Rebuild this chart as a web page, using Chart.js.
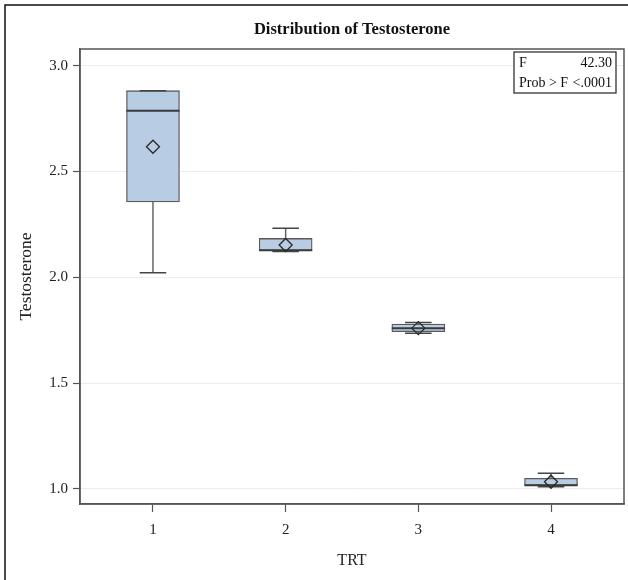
<!DOCTYPE html>
<html><head><meta charset="utf-8">
<script src="https://cdn.jsdelivr.net/npm/chart.js@4"></script>
<style>
html,body{margin:0;padding:0;background:#fff;}
#wrap{position:relative;width:628px;height:580px;}
canvas{display:block;}
</style></head><body>
<div id="wrap"><canvas id="c" width="628" height="580"></canvas></div>
<script>
// ---- data ----
const categories = [1, 2, 3, 4];
const categoryLabels = ['1', '2', '3', '4'];
const whiskerLow  = [2.022, 2.122, 1.736, 1.010];
const q1          = [2.356, 2.126, 1.743, 1.017];
const median      = [2.787, 2.128, 1.759, 1.018];
const q3          = [2.882, 2.184, 1.779, 1.050];
const whiskerHigh = [2.882, 2.232, 1.787, 1.074];
const means       = [2.617, 2.153, 1.760, 1.034];
const yTicks = [1.0, 1.5, 2.0, 2.5, 3.0];
const statLabels = ['F', 'Prob > F'];
const statValues = ['42.30', '<.0001'];
const chartTitle = 'Distribution of Testosterone';
const xTitle = 'TRT';
const yTitle = 'Testosterone';

// ---- build datasets ----
const BOX_HALF = 0.2, CAP_HALF = 0.1;
const boxData = categories.map((c, i) => ({x: c, y: [q1[i], q3[i]]}));
const whiskerData = [], capData = [], medianData = [];
categories.forEach((c, i) => {
  whiskerData.push({x: c, y: q3[i]}, {x: c, y: whiskerHigh[i]}, {x: c, y: null});
  whiskerData.push({x: c, y: q1[i]}, {x: c, y: whiskerLow[i]}, {x: c, y: null});
  capData.push({x: c - CAP_HALF, y: whiskerHigh[i]}, {x: c + CAP_HALF, y: whiskerHigh[i]}, {x: c, y: null});
  capData.push({x: c - CAP_HALF, y: whiskerLow[i]}, {x: c + CAP_HALF, y: whiskerLow[i]}, {x: c, y: null});
  medianData.push({x: c - BOX_HALF, y: median[i]}, {x: c + BOX_HALF, y: median[i]}, {x: c, y: null});
});
const meanData = categories.map((c, i) => ({x: c, y: means[i]}));

const FONT = "'Liberation Serif', 'Times New Roman', serif";
const FRAME = '#555555';

const framePlugin = {
  id: 'frame',
  beforeDraw(chart) {
    const ctx = chart.ctx;
    ctx.save();
    ctx.fillStyle = '#fff';
    ctx.fillRect(0, 0, chart.width, chart.height);
    ctx.strokeStyle = '#111';
    ctx.lineWidth = 1.5;
    ctx.beginPath();
    ctx.moveTo(5, chart.height); ctx.lineTo(5, 5); ctx.lineTo(chart.width, 5);
    ctx.stroke();
    ctx.restore();
  },
  afterDraw(chart) {
    const ctx = chart.ctx, a = chart.chartArea;
    ctx.save();
    ctx.strokeStyle = FRAME;
    ctx.lineWidth = 1.5;
    ctx.strokeRect(a.left, a.top, a.right - a.left, a.bottom - a.top);
    // stats inset box
    const bw = 102, bh = 41;
    const bx = a.right - 8 - bw, by = a.top + 3;
    ctx.fillStyle = '#fff';
    ctx.fillRect(bx, by, bw, bh);
    ctx.strokeStyle = '#222';
    ctx.lineWidth = 1.2;
    ctx.strokeRect(bx, by, bw, bh);
    ctx.fillStyle = '#111';
    ctx.font = '14px ' + FONT;
    ctx.textBaseline = 'middle';
    statLabels.forEach((lab, i) => {
      const ty = by + 11 + i * 20;
      ctx.textAlign = 'left';
      ctx.fillText(lab, bx + 5, ty);
      ctx.textAlign = 'right';
      ctx.fillText(statValues[i], bx + bw - 4, ty);
    });
    ctx.restore();
  }
};

new Chart(document.getElementById('c'), {
  type: 'bar',
  data: {
    datasets: [
      {
        type: 'scatter', label: 'Mean', data: meanData, order: 1,
        pointStyle: 'rectRot', pointRadius: 6.5, pointHoverRadius: 6.5,
        pointBackgroundColor: 'rgba(0,0,0,0)', pointBorderColor: '#2a2a2a', pointBorderWidth: 1.3,
        showLine: false
      },
      {
        type: 'line', label: 'Median', data: medianData, order: 2,
        borderColor: '#3a3a3a', borderWidth: 2, pointRadius: 0, spanGaps: false, fill: false
      },
      {
        type: 'line', label: 'Caps', data: capData, order: 3,
        borderColor: '#444', borderWidth: 1.5, pointRadius: 0, spanGaps: false, fill: false
      },
      {
        type: 'line', label: 'Whiskers', data: whiskerData, order: 4,
        borderColor: '#666', borderWidth: 1.5, pointRadius: 0, spanGaps: false, fill: false
      },
      {
        type: 'bar', label: 'Box', data: boxData, order: 5,
        backgroundColor: '#b8cce4', borderColor: '#5a5a5a', borderWidth: 1.3,
        borderSkipped: false, barThickness: 53
      }
    ]
  },
  options: {
    responsive: false,
    animation: false,
    events: [],
    layout: {autoPadding: false, padding: {left: 6, right: 4, top: 0, bottom: 0}},
    plugins: {
      legend: {display: false},
      tooltip: {enabled: false},
      title: {
        display: true, text: chartTitle, fullSize: false,
        color: '#111', font: {family: FONT, size: 16.5, weight: 'bold'},
        padding: {top: 20, bottom: 9.2}
      }
    },
    scales: {
      x: {
        type: 'linear', min: 0.45, max: 4.55, offset: false,
        afterBuildTicks: s => { s.ticks = categories.map(v => ({value: v})); },
        afterFit: s => { s.height = 76; s.paddingLeft = 0; s.paddingRight = 0; },
        ticks: {
          callback: v => categoryLabels[categories.indexOf(v)],
          font: {family: FONT, size: 15}, color: '#222', padding: 9, maxRotation: 0
        },
        grid: {offset: false, drawOnChartArea: false, tickLength: 8, tickColor: '#555', tickWidth: 1.2},
        border: {color: FRAME, width: 1.5},
        title: {display: true, text: xTitle, color: '#222', font: {family: FONT, size: 16}, padding: {top: 4, bottom: 10}}
      },
      y: {
        type: 'linear', min: 0.929, max: 3.079,
        afterBuildTicks: s => { s.ticks = yTicks.map(v => ({value: v})); },
        afterFit: s => { s.width = 74; s.paddingTop = 0; s.paddingBottom = 0; },
        ticks: {
          callback: v => v.toFixed(1),
          font: {family: FONT, size: 15}, color: '#222', padding: 5
        },
        grid: {color: '#ececec', lineWidth: 1, tickLength: 7, tickColor: '#555', tickWidth: 1.2},
        border: {color: FRAME, width: 1.5},
        title: {display: true, text: yTitle, color: '#222', font: {family: FONT, size: 17.5}, padding: {top: 10, bottom: 0}}
      }
    }
  },
  plugins: [framePlugin]
});
</script>
</body></html>
